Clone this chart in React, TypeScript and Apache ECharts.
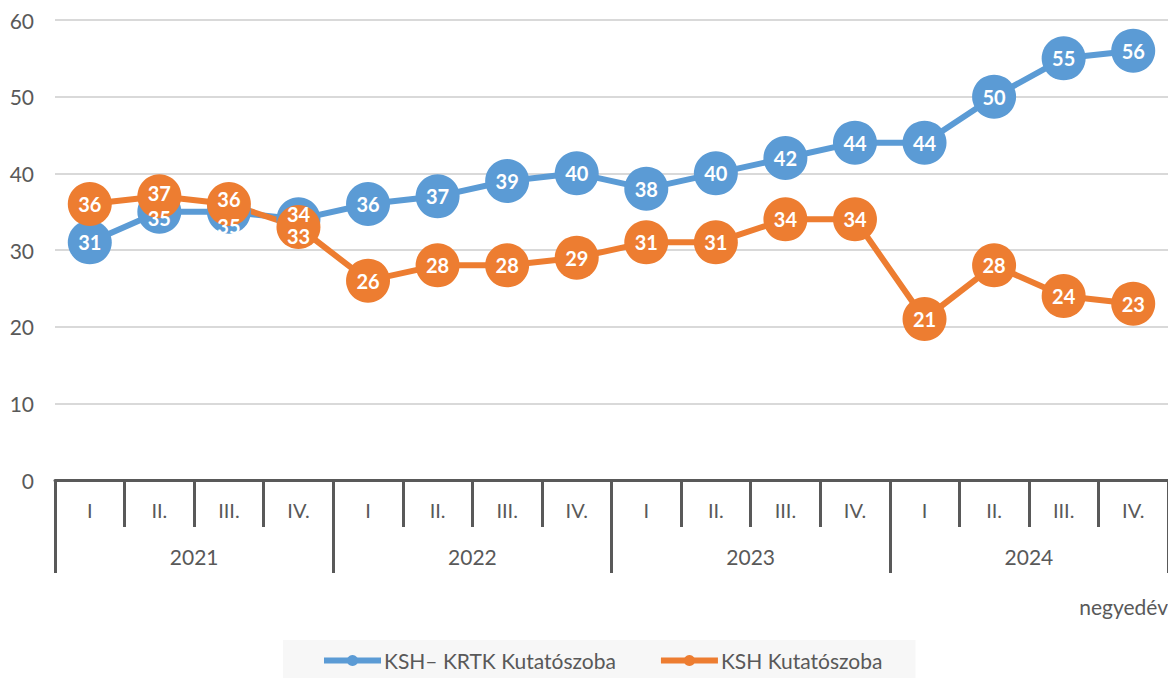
import React, { useEffect, useRef } from "react";
import * as echarts from "echarts";

const quarterLabels = ["I", "II.", "III.", "IV.", "I", "II.", "III.", "IV.", "I", "II.", "III.", "IV.", "I", "II.", "III.", "IV."];
const yearLabels = ["2021", "2022", "2023", "2024"];
const seriesNames = ["KSH– KRTK Kutatószoba", "KSH Kutatószoba"];
const krtkValues = [31, 35, 35, 34, 36, 37, 39, 40, 38, 40, 42, 44, 44, 50, 55, 56];
const kshValues = [36, 37, 36, 33, 26, 28, 28, 29, 31, 31, 34, 34, 21, 28, 24, 23];
const axisUnit = "negyedév";

const FONT = "Lato, 'Noto Sans', sans-serif";
const BLUE = "#5B9BD5";
const ORANGE = "#ED7D31";
const GRAY = "#595959";

// small vertical label nudges where labels overlap (style only)
const krtkLabelShift: Record<number, number> = { 1: 6, 2: 14, 3: -5 };
const kshLabelShift: Record<number, number> = { 1: -3, 2: -5, 3: 9 };

function buildData(values: number[], shift: Record<number, number>) {
  return values.map((v, i) =>
    shift[i] !== undefined ? { value: v, label: { offset: [0, shift[i]] } } : { value: v }
  );
}

export default function App() {
  const ref = useRef<HTMLDivElement>(null);
  useEffect(() => {
    if (!ref.current) return;
    const chart = echarts.init(ref.current, undefined, { renderer: "svg" });
    const label = {
      show: true,
      position: "inside",
      color: "#ffffff",
      fontFamily: FONT,
      fontWeight: "bold",
      fontSize: 20,
    };
    chart.setOption({
      animation: false,
      backgroundColor: "#ffffff",
      textStyle: { fontFamily: FONT },
      grid: { left: 55, width: 1117, top: 20, height: 460, containLabel: false },
      legend: {
        data: seriesNames,
        left: 283,
        top: 640,
        padding: [10, 33, 14, 38],
        backgroundColor: "#f7f7f7",
        itemGap: 42,
        itemWidth: 57,
        itemHeight: 14,
        lineStyle: { width: 6 },
        textStyle: { color: GRAY, fontSize: 21, fontFamily: FONT, padding: [0, 0, 0, -2] },
      },
      xAxis: [
        {
          type: "category",
          position: "bottom",
          data: quarterLabels,
          boundaryGap: true,
          axisLine: { show: true, lineStyle: { color: GRAY, width: 3 } },
          axisTick: { show: true, interval: 0, length: 47, lineStyle: { color: GRAY, width: 3 } },
          axisLabel: { interval: 0, color: GRAY, fontSize: 20, fontFamily: FONT, margin: 20 },
          splitLine: { show: false },
        },
        {
          type: "category",
          position: "bottom",
          data: yearLabels,
          boundaryGap: true,
          axisLine: { show: false },
          axisTick: { show: true, interval: 0, length: 93, lineStyle: { color: GRAY, width: 3 } },
          axisLabel: { interval: 0, color: GRAY, fontSize: 21, fontFamily: FONT, margin: 66 },
          splitLine: { show: false },
        },
      ],
      yAxis: {
        type: "value",
        min: 0,
        max: 60,
        interval: 10,
        axisLine: { show: false },
        axisTick: { show: false },
        axisLabel: { color: GRAY, fontSize: 21, fontFamily: FONT, margin: 21 },
        splitLine: { lineStyle: { color: "#d9d9d9", width: 2 } },
      },
      graphic: [
        {
          type: "text",
          right: 0,
          top: 596,
          style: { text: axisUnit, fill: GRAY, fontSize: 21, fontFamily: FONT },
        },
      ],
      series: [
        {
          name: seriesNames[0],
          type: "line",
          xAxisIndex: 0,
          data: buildData(krtkValues, krtkLabelShift),
          symbol: "circle",
          symbolSize: 44,
          lineStyle: { color: BLUE, width: 6 },
          itemStyle: { color: BLUE },
          label,
        },
        {
          name: seriesNames[1],
          type: "line",
          xAxisIndex: 0,
          data: buildData(kshValues, kshLabelShift),
          symbol: "circle",
          symbolSize: 44,
          lineStyle: { color: ORANGE, width: 6 },
          itemStyle: { color: ORANGE },
          label,
        },
      ],
    });
    return () => chart.dispose();
  }, []);
  return <div ref={ref} style={{ position: "absolute", left: 0, top: 0, width: 1168, height: 678 }} />;
}
